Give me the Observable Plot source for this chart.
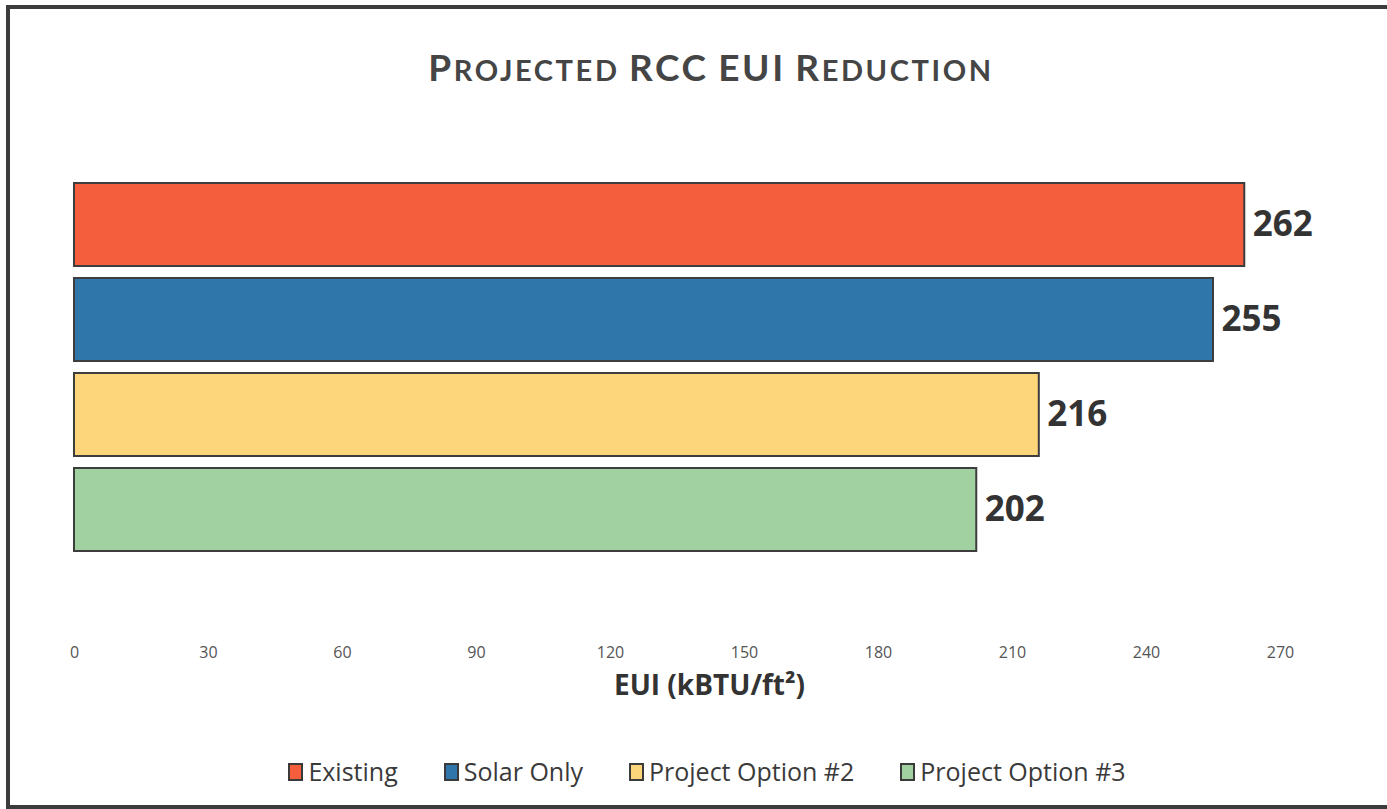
<!DOCTYPE html>
<html>
<head>
<meta charset="utf-8">
<script src="https://cdn.jsdelivr.net/npm/d3@7"></script>
<script src="https://cdn.jsdelivr.net/npm/@observablehq/plot@0.6"></script>
<style>
  html, body { margin: 0; padding: 0; background: #fff; width: 1387px; height: 809px; overflow: hidden; }
  #frame { position: absolute; left: 6px; top: 5px; width: 1420px; height: 804px; box-sizing: border-box;
           border: 4px solid #3c3c3c; border-right: none; }
  #title { position: absolute; left: 0; width: 1422px; top: 44px; text-align: center; color: #454545;
           font-family: Lato, "Open Sans", sans-serif; font-weight: 700; letter-spacing: 2.6px; word-spacing: 3px; }
  #title .big { font-size: 37px; }
  #title .sm { font-size: 29px; }
  #chart { position: absolute; left: 0; top: 0; }
  #legend { position: absolute; left: 0; width: 1414px; top: 754px; text-align: center; white-space: nowrap;
            font-family: "Open Sans", sans-serif; font-size: 25px; color: #3a3a3a; }
  #legend .item { display: inline-block; margin: 0 23px; }
  #legend .sw { display: inline-block; width: 11px; height: 14px; border: 2px solid #3a3a3a; vertical-align: 0px; margin-right: 5px; }
</style>
</head>
<body>
<div id="frame"></div>
<div id="title"></div>
<div id="chart"></div>
<div id="legend"></div>
<script>
const titleText = "Projected RCC EUI Reduction";
const categories = ["Existing", "Solar Only", "Project Option #2", "Project Option #3"];
const values = [262, 255, 216, 202];
const colors = ["#f45e3c", "#2f77aa", "#fdd67b", "#a1d1a0"];
const xTicks = [0, 30, 60, 90, 120, 150, 180, 210, 240, 270];
const xLabel = "EUI (kBTU/ft²)";

// Title in small caps
const titleEl = document.getElementById("title");
titleText.split(" ").forEach((word, wi) => {
  if (wi > 0) titleEl.appendChild(document.createTextNode(" "));
  for (const ch of word) {
    const s = document.createElement("span");
    const isUpper = ch === ch.toUpperCase();
    s.className = isUpper ? "big" : "sm";
    s.textContent = ch.toUpperCase();
    titleEl.appendChild(s);
  }
});

const data = categories.map((name, i) => ({name, value: values[i]}));

const chart = Plot.plot({
  width: 1387,
  height: 720,
  marginLeft: 74,
  marginRight: 107,
  marginTop: 170,
  marginBottom: 156,
  style: {fontFamily: "'Open Sans', sans-serif", background: "transparent"},
  x: {domain: [0, 270], ticks: xTicks, label: null},
  y: {domain: categories, padding: 0.125, axis: null},
  color: {domain: categories, range: colors},
  marks: [
    Plot.axisX({ticks: xTicks, tickSize: 0, tickPadding: 82, fontSize: 16, color: "#555", label: null}),
    Plot.barX(data, {x: "value", y: "name", fill: "name", stroke: "#3d3d3d", strokeWidth: 2}),
    Plot.text(data, {x: "value", y: "name", text: d => String(d.value), dx: 8, textAnchor: "start",
      fontSize: 35, fontWeight: 700, fill: "#333"}),
    Plot.text([xLabel], {frameAnchor: "bottom", dx: 32, dy: 130, fontSize: 28, fontWeight: 700, fill: "#333"})
  ]
});
document.getElementById("chart").appendChild(chart);

// Legend
const legendEl = document.getElementById("legend");
categories.forEach((c, i) => {
  const item = document.createElement("span");
  item.className = "item";
  const sw = document.createElement("span");
  sw.className = "sw";
  sw.style.background = colors[i];
  item.appendChild(sw);
  item.appendChild(document.createTextNode(c));
  legendEl.appendChild(item);
});
</script>
</body>
</html>
